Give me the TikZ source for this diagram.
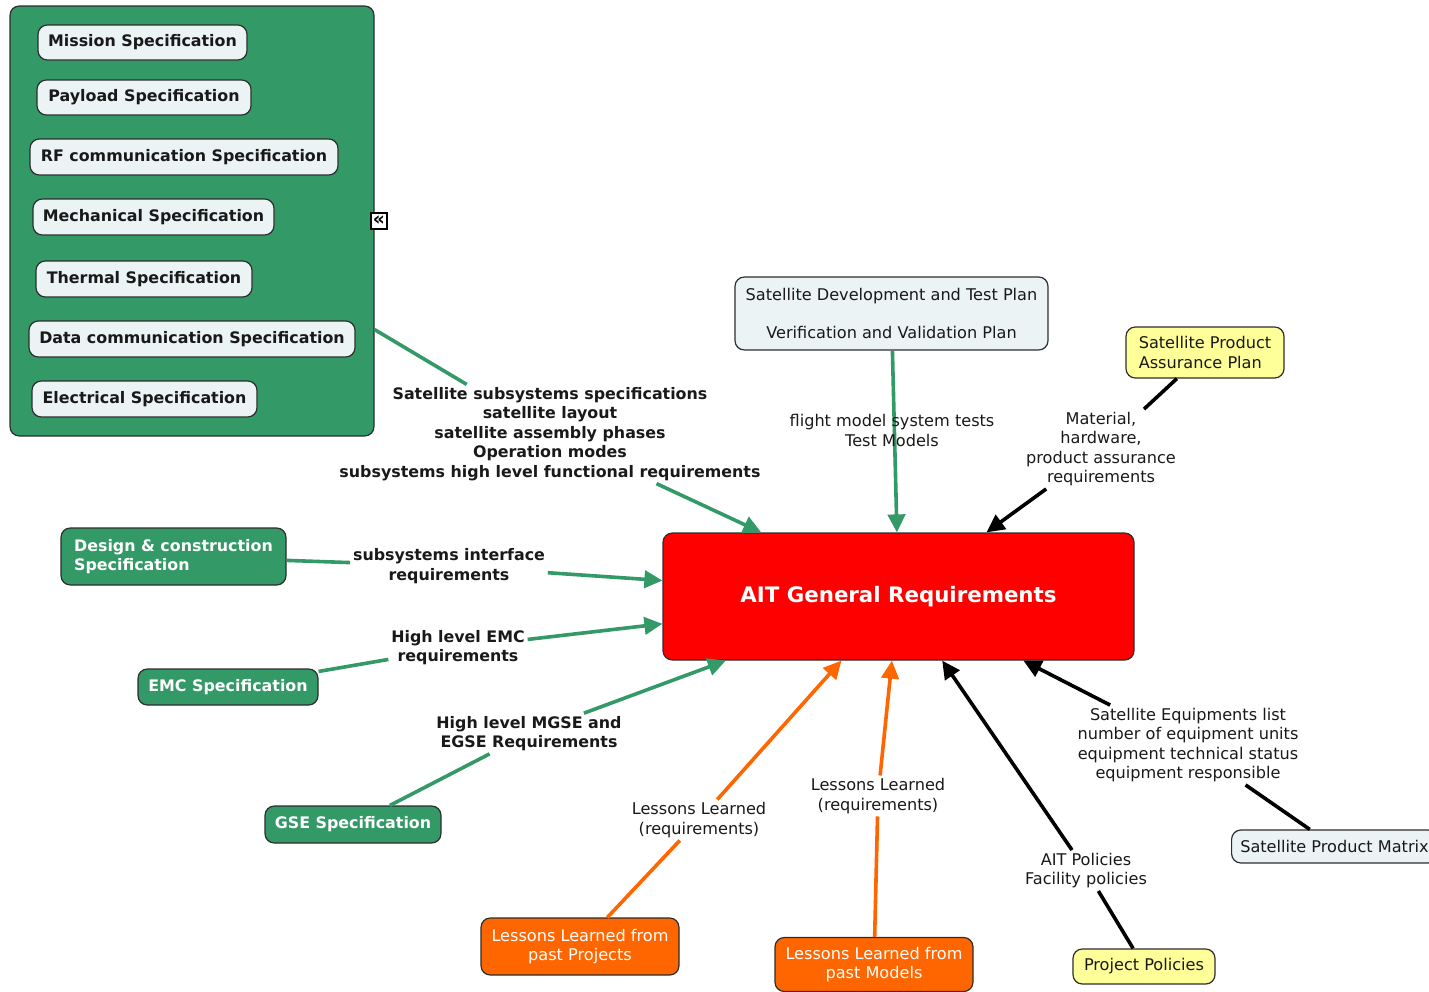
\documentclass[tikz,border=0pt]{standalone}
\usepackage{fontspec}
\setmainfont{DejaVu Sans}
\usetikzlibrary{arrows.meta}
\definecolor{cgreen}{RGB}{51,153,102}
\definecolor{corange}{RGB}{255,102,0}
\definecolor{cyellow}{RGB}{255,255,153}
\definecolor{clight}{RGB}{235,243,245}
\definecolor{cborder}{RGB}{45,45,45}
\definecolor{ctext}{RGB}{25,25,25}
\tikzset{
  txt/.style={font=\fontsize{12.1}{14.6}\selectfont},
  btxt/.style={font=\bfseries\fontsize{11.9}{14.6}\selectfont},
  concept/.style={draw=cborder, line width=0.9pt, rounded corners=7pt, inner sep=2pt},
  spec/.style={concept, fill=clight, text=ctext, btxt},
  lightbox/.style={concept, fill=clight, text=ctext, txt},
  yellowbox/.style={concept, fill=cyellow, text=ctext, txt},
  orangebox/.style={concept, fill=corange, text=white, txt, align=center},
  greenbox/.style={concept, fill=cgreen, text=white, btxt},
  lbl/.style={inner sep=2pt, align=center, text=ctext, txt},
  blbl/.style={inner sep=2pt, align=center, text=ctext, btxt},
  conn/.style={line width=2.7pt},
  tip/.style={-{Triangle[length=13.5pt,width=13pt]}},
  gline/.style={conn, draw=cgreen},
  garrow/.style={gline, tip},
  oline/.style={conn, draw=corange},
  oarrow/.style={oline, tip},
  kline/.style={conn, draw=black},
  karrow/.style={kline, tip}
}
\begin{document}
\begin{tikzpicture}[x=0.75pt,y=-0.75pt]
\useasboundingbox (0,0) rectangle (1429,992);
\clip (0,0) rectangle (1429,992);

% specification group
\node[concept, fill=cgreen, minimum width=273pt, minimum height=322.5pt] (group) at (192,221) {};
\node[spec, minimum width=156.75pt, minimum height=26.25pt] (mission) at (142.5,42.5) {Mission Specification};
\node[spec, minimum width=160.5pt, minimum height=26.25pt] (payload) at (144,97.5) {Payload Specification};
\node[spec, minimum width=231pt, minimum height=27pt] (rf) at (184,157) {RF communication Specification};
\node[spec, minimum width=180.75pt, minimum height=27pt] (mech) at (153.5,217) {Mechanical Specification};
\node[spec, minimum width=162pt, minimum height=27pt] (thermal) at (144,279) {Thermal Specification};
\node[spec, minimum width=244.5pt, minimum height=27pt] (data) at (192,339) {Data communication Specification};
\node[spec, minimum width=168.75pt, minimum height=27pt] (elec) at (144.5,399) {Electrical Specification};
\node[draw=black, fill=white, line width=1pt, minimum size=12pt, inner sep=0pt, font=\bfseries\fontsize{14}{14}\selectfont] (collapse) at (379,221) {«};

% central concept
\node[concept, fill=red, text=white, minimum width=353.25pt, minimum height=95.25pt, font=\bfseries\fontsize{16}{19}\selectfont] (red) at (898.5,596.5) {AIT General Requirements};

% other concepts
\node[lightbox, align=center, minimum width=234.75pt, minimum height=54.75pt] (sdtp) at (891.5,313.5) {Satellite Development and Test Plan\\[14.6pt]Verification and Validation Plan};
\node[yellowbox, align=left, minimum width=118.5pt, minimum height=38.25pt] (spap) at (1205,352.5) {Satellite Product\\Assurance Plan};
\node[greenbox, align=left, minimum width=168.75pt, minimum height=42.75pt] (design) at (173.5,556.5) {Design \& construction\\Specification};
\node[greenbox, minimum width=135pt, minimum height=27pt] (emc) at (228,687) {EMC Specification};
\node[greenbox, minimum width=132pt, minimum height=27.75pt] (gse) at (353,824.5) {GSE Specification};
\node[orangebox, minimum width=148.5pt, minimum height=42.75pt] (llp) at (580,946.5) {Lessons Learned from\\past Projects};
\node[orangebox, minimum width=148.5pt, minimum height=40.5pt] (llm) at (874,964.5) {Lessons Learned from\\past Models};
\node[yellowbox, minimum width=106.5pt, minimum height=26.25pt] (pp) at (1144,966.5) {Project Policies};
\node[lightbox, anchor=west, inner xsep=6.5pt, minimum height=24.75pt] (spm) at (1231,846.5) {Satellite Product Matrix\hspace{8pt}};

% linking phrases
\node[blbl] (sss) at (550,434) {Satellite subsystems specifications\\satellite layout\\satellite assembly phases\\Operation modes\\subsystems high level functional requirements};
\node[lbl] (mat) at (1101,449) {Material,\\hardware,\\product assurance\\requirements};
\node[blbl] (sir) at (449,566) {subsystems interface\\requirements};
\node[blbl] (emcl) at (458,647.5) {High level EMC\\requirements};
\node[blbl] (mgse) at (529,733.5) {High level MGSE and\\EGSE Requirements};
\node[lbl] (llpl) at (699,820) {Lessons Learned\\(requirements)};
\node[lbl] (llml) at (878,796) {Lessons Learned\\(requirements)};
\node[lbl] (pol) at (1086,870.5) {AIT Policies\\Facility policies};
\node[lbl] (eq) at (1188,745) {Satellite Equipments list\\number of equipment units\\equipment technical status\\equipment responsible};

% connectors
\draw[gline] (group) -- (sss);
\draw[garrow] (sss) -- (red);
\draw[garrow] (sdtp) -- (red);
\node[lbl] (fm) at (892,430.5) {flight model system tests\\Test Models};
\draw[kline] (spap) -- (mat);
\draw[karrow] (mat) -- (red);
\draw[gline] (design) -- (sir);
\draw[garrow] (sir) -- (red);
\draw[gline] (emc) -- (emcl);
\draw[garrow] (emcl) -- (red);
\draw[gline] (gse) -- (mgse);
\draw[garrow] (mgse) -- (red);
\draw[oline] (llp) -- (llpl);
\draw[oarrow] (llpl) -- (red);
\draw[oline] (llm) -- (llml);
\draw[oarrow] (llml) -- (red);
\draw[kline] (pp) -- (pol);
\draw[karrow] (pol) -- (red);
\draw[kline] (spm) -- (eq);
\draw[karrow] (eq) -- (red);
\end{tikzpicture}
\end{document}
